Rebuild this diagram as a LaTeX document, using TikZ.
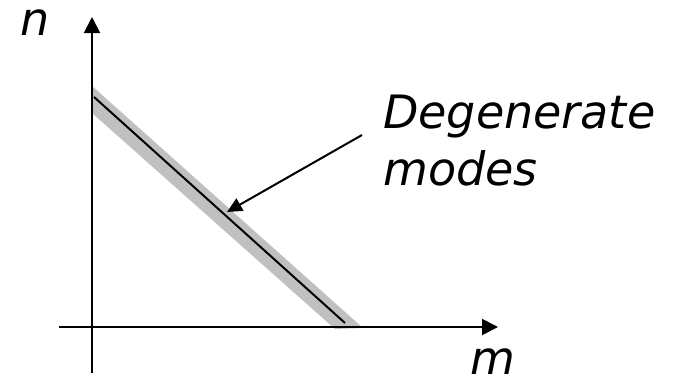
\documentclass[tikz,border=0pt]{standalone}
\usepackage{fontspec}
\setmainfont{DejaVu Sans}
\usetikzlibrary{arrows.meta}
\definecolor{bandgray}{RGB}{192,192,192}
\begin{document}
\begin{tikzpicture}[x=1pt,y=-1pt,
  axis/.style={line width=2pt,-{Triangle[length=16pt,width=16pt]}},
  pointer/.style={line width=2pt,-{Triangle[length=15pt,width=14pt]}},
  lbl/.style={font=\fontsize{46}{55}\selectfont\itshape,inner sep=0pt,anchor=base west}]
\useasboundingbox (0,0) rectangle (675,383);
% coordinates
\coordinate (ybot) at (92,373);
\coordinate (ytop) at (92,17);
\coordinate (xleft) at (59,327);
\coordinate (xright) at (498,327);
\coordinate (lstart) at (94,97);
\coordinate (lend) at (345,323);
\coordinate (ptrstart) at (362,135);
\coordinate (ptrtip) at (227,212);
% band
\fill[bandgray] (92,86) -- (363,328) -- (335,329) -- (92,113) -- cycle;
\draw[line width=2pt] (lstart) -- (lend);
% axes
\draw[axis] (ybot) -- (ytop);
\draw[axis] (xleft) -- (xright);
% labels
\node[lbl] (nlab) at (20,35) {n};
\node[lbl] (mlab) at (470,374) {m};
\node[lbl] (deg) at (383,128) {Degenerate};
\node[lbl] (modes) at (383,185) {modes};
\draw[pointer] (ptrstart) -- (ptrtip);
\end{tikzpicture}
\end{document}
